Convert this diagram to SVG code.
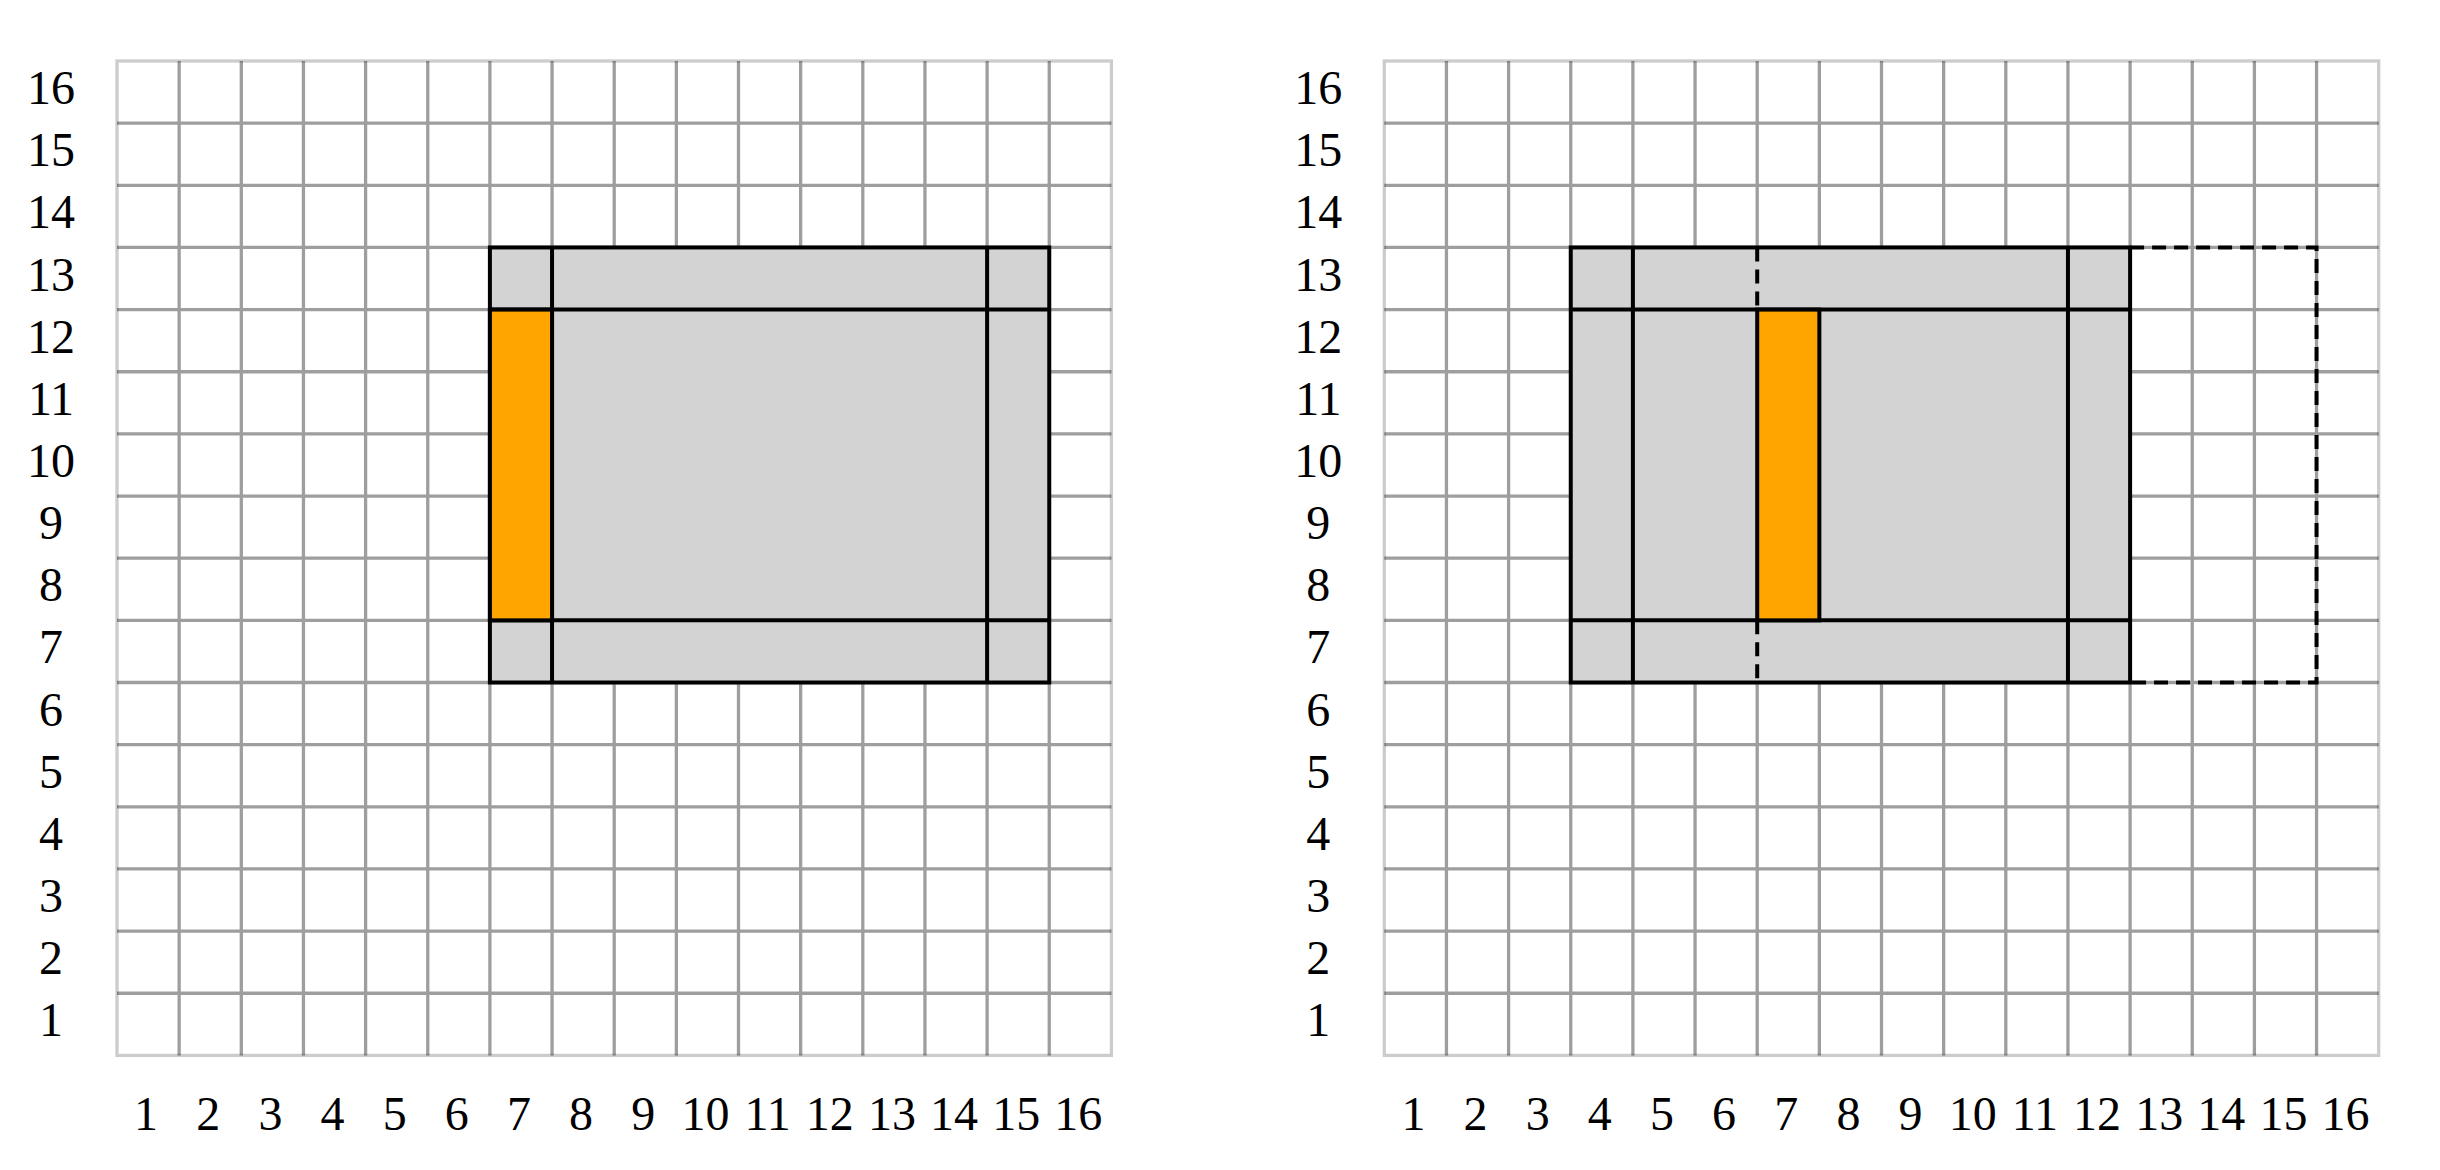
<svg xmlns="http://www.w3.org/2000/svg" xmlns:xlink="http://www.w3.org/1999/xlink" width="2440" height="1170" viewBox="0 0 2440 1170">
<style>
.grid{fill:none;stroke:#000;stroke-opacity:0.38;stroke-width:3.3}
.border{fill:none;stroke:#000;stroke-opacity:0.2;stroke-width:3.3}
.lbl{font-family:"Liberation Serif","DejaVu Serif",serif;font-size:48px;fill:#000;text-anchor:middle}
.box{fill:#d3d3d3;stroke:#000;stroke-width:4}
.orange{fill:#ffa500;stroke:#000;stroke-width:4}
.ln{fill:none;stroke:#000;stroke-width:4}
.dash{fill:none;stroke:#000;stroke-width:4;stroke-dasharray:14 8}
</style>
<defs>
<g id="gridlbl">
<path class="grid" d="M62.15,0V994.4M124.3,0V994.4M186.45,0V994.4M248.6,0V994.4M310.75,0V994.4M372.9,0V994.4M435.05,0V994.4M497.2,0V994.4M559.35,0V994.4M621.5,0V994.4M683.65,0V994.4M745.8,0V994.4M807.95,0V994.4M870.1,0V994.4M932.25,0V994.4M0,62.15H994.4M0,124.3H994.4M0,186.45H994.4M0,248.6H994.4M0,310.75H994.4M0,372.9H994.4M0,435.05H994.4M0,497.2H994.4M0,559.35H994.4M0,621.5H994.4M0,683.65H994.4M0,745.8H994.4M0,807.95H994.4M0,870.1H994.4M0,932.25H994.4"/>
<rect class="border" x="0" y="0" width="994.4" height="994.4"/>
<g class="lbl">
<text x="-66" y="975.3">1</text>
<text x="-66" y="913.2">2</text>
<text x="-66" y="851.0">3</text>
<text x="-66" y="788.9">4</text>
<text x="-66" y="726.7">5</text>
<text x="-66" y="664.6">6</text>
<text x="-66" y="602.4">7</text>
<text x="-66" y="540.3">8</text>
<text x="-66" y="478.1">9</text>
<text x="-66" y="416.0">10</text>
<text x="-66" y="353.8">11</text>
<text x="-66" y="291.7">12</text>
<text x="-66" y="229.5">13</text>
<text x="-66" y="167.4">14</text>
<text x="-66" y="105.2">15</text>
<text x="-66" y="43.1">16</text>
<text x="29.1" y="1069">1</text>
<text x="91.2" y="1069">2</text>
<text x="153.4" y="1069">3</text>
<text x="215.5" y="1069">4</text>
<text x="277.7" y="1069">5</text>
<text x="339.8" y="1069">6</text>
<text x="402.0" y="1069">7</text>
<text x="464.1" y="1069">8</text>
<text x="526.3" y="1069">9</text>
<text x="588.4" y="1069">10</text>
<text x="650.6" y="1069">11</text>
<text x="712.7" y="1069">12</text>
<text x="774.9" y="1069">13</text>
<text x="837.0" y="1069">14</text>
<text x="899.2" y="1069">15</text>
<text x="961.3" y="1069">16</text>
</g>
</g>
</defs>
<rect x="0" y="0" width="2440" height="1170" fill="#fff"/>
<g id="left" transform="translate(117,61)">
<use xlink:href="#gridlbl"/>
<rect class="box" x="372.9" y="186.45" width="559.35" height="435.05"/>
<path class="ln" d="M435.05,186.45V621.5M870.1,186.45V621.5M372.9,248.6H932.25M372.9,559.35H932.25"/>
<rect class="orange" x="372.9" y="248.6" width="62.15" height="310.75"/>
</g>
<g id="right" transform="translate(1384.3,61)">
<use xlink:href="#gridlbl"/>
<rect class="box" x="186.45" y="186.45" width="559.35" height="435.05"/>
<path class="ln" d="M248.6,186.45V621.5M683.65,186.45V621.5M186.45,248.6H745.8M186.45,559.35H745.8"/>
<path class="dash" d="M372.9,186.45V248.6M372.9,559.35V621.5"/>
<path class="dash" d="M745.8,186.45H932.25V621.5H745.8"/>
<rect class="orange" x="372.9" y="248.6" width="62.15" height="310.75"/>
</g>
</svg>
